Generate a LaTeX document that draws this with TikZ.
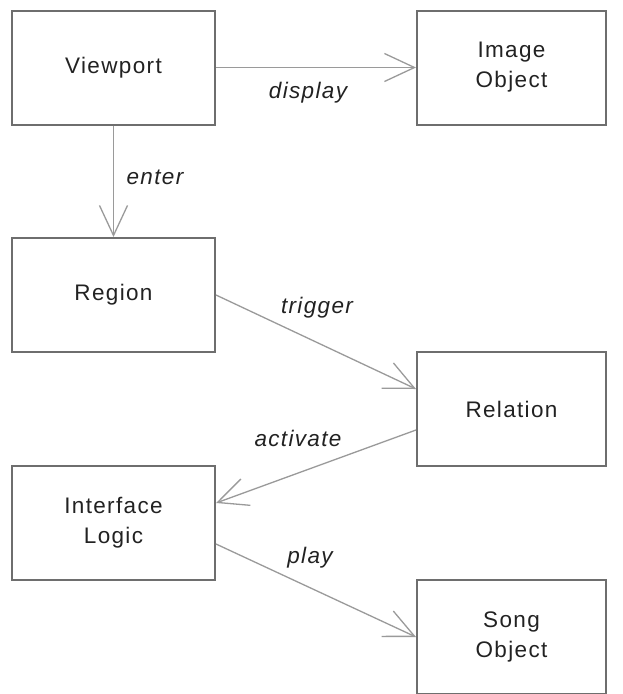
\documentclass[tikz,border=0pt]{standalone}
\usepackage{fontspec}
\setmainfont[LetterSpace=6]{Liberation Sans}
\usetikzlibrary{arrows.meta}
\definecolor{boxline}{HTML}{6E6E6E}
\definecolor{arrline}{HTML}{9A9A9A}
\definecolor{txt}{HTML}{222222}
\tikzset{
  blk/.style={draw=boxline, line width=2pt, fill=white, minimum height=114pt,
    inner sep=0pt, align=center, text=txt, font=\fontsize{22.5}{30}\selectfont},
  conn/.style={draw=arrline, line width=1.3pt,
    -{Straight Barb[length=30pt,width=28pt,line width=1.3pt]}},
  lbl/.style={text=txt, font=\fontsize{22.5}{26}\selectfont\itshape, inner sep=0pt}
}
\begin{document}
\begin{tikzpicture}[x=1pt,y=-1pt]
\useasboundingbox[fill=white] (0,0) rectangle (622,694);
\node[blk, minimum width=203pt] (view) at (113.5,67.5) {Viewport};
\node[blk, minimum width=189pt] (img) at (511.5,67.5) {Image\\Object};
\node[blk, minimum width=203pt] (reg) at (113.5,295) {Region};
\node[blk, minimum width=189pt] (rel) at (511.5,409) {Relation};
\node[blk, minimum width=203pt] (ifl) at (113.5,523) {Interface\\Logic};
\node[blk, minimum width=189pt] (song) at (511.5,637) {Song\\Object};
\draw[conn] (view.east) -- (img.west);
\draw[conn] (view.south) -- (reg.north);
\draw[conn] (reg.east) -- ([yshift=20pt]rel.west);
\draw[conn] ([yshift=-21pt]rel.west) -- ([yshift=20pt]ifl.east);
\draw[conn] ([yshift=-21pt]ifl.east) -- (song.west);
\node[lbl] (l1) at (308,93) {display};
\node[lbl] (l2) at (155,177) {enter};
\node[lbl] (l3) at (317,308) {trigger};
\node[lbl] (l4) at (298,438) {activate};
\node[lbl] (l5) at (310,558) {play};
\end{tikzpicture}
\end{document}
